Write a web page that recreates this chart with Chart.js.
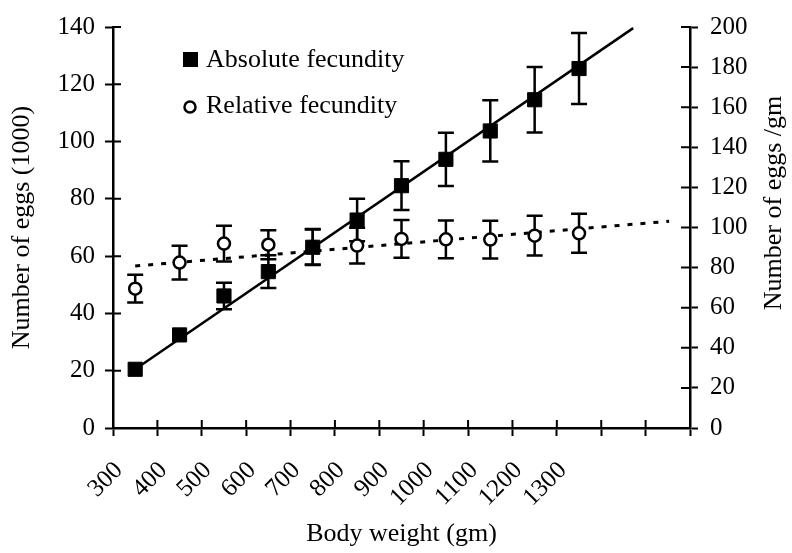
<!DOCTYPE html>
<html>
<head>
    <meta charset="utf-8">
    <title>Fecundity and body weight</title>
    <script src="https://cdn.jsdelivr.net/npm/chart.js"></script>
    <style>
        html, body { margin: 0; padding: 0; background: #fff; }
        .chart-container { width: 792px; height: 553px; position: relative; }
    </style>
</head>
<body>
    <div class="chart-container">
        <canvas id="fecundityChart"></canvas>
    </div>

    <script>
        // body weight classes (gm), midpoints of each 100 gm class
        const weights = [350, 450, 550, 650, 750, 850, 950, 1050, 1150, 1250, 1350];
        // absolute fecundity, number of eggs (1000), mean and +/- error
        const absoluteFecundity = [20.5, 32.5, 46.1, 54.6, 63.1, 72.6, 84.6, 93.8, 103.7, 114.6, 125.5];
        const absoluteError = [0, 0, 4.6, 5.7, 6.2, 7.4, 8.5, 9.3, 10.7, 11.4, 12.4];
        // relative fecundity, number of eggs per gm
        const relativeFecundity = [69.5, 82.5, 92.0, 91.4, 90.4, 91.0, 94.3, 94.1, 94.0, 95.9, 97.1];
        const relativeError = [6.9, 8.4, 8.9, 7.2, 8.9, 8.9, 9.4, 9.4, 9.4, 9.9, 9.7];
        // fitted lines (end points)
        const absoluteFitX = [350, 1472];
        const absoluteFitY = [20.5, 139.6];
        const relativeFitX = [350, 1553];
        const relativeFitY = [80.8, 103.1];
        // only these weights get a label on the x axis
        const weightLabels = [300, 400, 500, 600, 700, 800, 900, 1000, 1100, 1200, 1300];

        const serif = "'Liberation Serif', 'Times New Roman', serif";
        const toPoints = (xs, ys) => xs.map((x, i) => ({ x: x, y: ys[i] }));

        const errorBars = {
            id: 'errorBars',
            beforeDatasetsDraw(chart) {
                const ctx = chart.ctx;
                const xs = chart.scales.x;
                const sets = [
                    [absoluteFecundity, absoluteError, chart.scales.y],
                    [relativeFecundity, relativeError, chart.scales.y1]
                ];
                ctx.save();
                ctx.strokeStyle = '#000';
                ctx.lineWidth = 2.5;
                sets.forEach(([vals, errs, ys]) => {
                    weights.forEach((w, i) => {
                        if (!errs[i]) return;
                        const px = xs.getPixelForValue(w);
                        const top = ys.getPixelForValue(vals[i] + errs[i]);
                        const bot = ys.getPixelForValue(vals[i] - errs[i]);
                        ctx.beginPath();
                        ctx.moveTo(px, top); ctx.lineTo(px, bot);
                        ctx.moveTo(px - 8, top); ctx.lineTo(px + 8, top);
                        ctx.moveTo(px - 8, bot); ctx.lineTo(px + 8, bot);
                        ctx.stroke();
                    });
                });
                ctx.restore();
            }
        };

        // tick marks that cross the axis, legend and right axis title
        const decorations = {
            id: 'decorations',
            afterDraw(chart) {
                const ctx = chart.ctx;
                const { x, y, y1 } = chart.scales;
                ctx.save();
                ctx.strokeStyle = '#000';
                ctx.lineWidth = 2;
                ctx.beginPath();
                x.ticks.forEach(t => {
                    const px = x.getPixelForValue(t.value);
                    ctx.moveTo(px, x.top); ctx.lineTo(px, x.top - 8);
                });
                y.ticks.forEach(t => {
                    const py = y.getPixelForValue(t.value);
                    ctx.moveTo(y.right, py); ctx.lineTo(y.right + 8, py);
                });
                y1.ticks.forEach(t => {
                    const py = y1.getPixelForValue(t.value);
                    ctx.moveTo(y1.left, py); ctx.lineTo(y1.left - 9, py);
                });
                ctx.stroke();

                // legend
                const ds = chart.data.datasets;
                ctx.font = '26px ' + serif;
                ctx.fillStyle = '#000';
                ctx.textBaseline = 'middle';
                ctx.textAlign = 'left';
                ctx.fillRect(183, 52, 15, 15);
                ctx.fillText(ds[0].label, 206, 60);
                ctx.beginPath();
                ctx.arc(190, 107, 5.5, 0, Math.PI * 2);
                ctx.lineWidth = 2.5;
                ctx.stroke();
                ctx.fillText(ds[1].label, 206, 106);

                // right axis title reads bottom to top
                ctx.translate(774, 203);
                ctx.rotate(-Math.PI / 2);
                ctx.textAlign = 'center';
                ctx.fillText('Number of eggs /gm', 0, 0);
                ctx.restore();
            }
        };

        const axisLine = { display: true, color: '#000', width: 2.5 };
        const tickMarks = { display: true, drawOnChartArea: false, drawTicks: true, tickLength: 8, tickWidth: 2, tickColor: '#000' };

        const ctx = document.getElementById('fecundityChart').getContext('2d');
        const chart = new Chart(ctx, {
            type: 'scatter',
            data: {
                datasets: [{
                    label: 'Absolute fecundity',
                    data: toPoints(weights, absoluteFecundity),
                    yAxisID: 'y',
                    pointStyle: 'rect',
                    pointRadius: 10,
                    backgroundColor: '#000',
                    borderColor: '#000',
                    borderWidth: 1
                }, {
                    label: 'Relative fecundity',
                    data: toPoints(weights, relativeFecundity),
                    yAxisID: 'y1',
                    pointStyle: 'circle',
                    pointRadius: 6,
                    backgroundColor: '#fff',
                    borderColor: '#000',
                    borderWidth: 2.5
                }, {
                    label: 'Absolute fit',
                    data: toPoints(absoluteFitX, absoluteFitY),
                    yAxisID: 'y',
                    showLine: true,
                    pointRadius: 0,
                    borderColor: '#000',
                    borderWidth: 2.5
                }, {
                    label: 'Relative fit',
                    data: toPoints(relativeFitX, relativeFitY),
                    yAxisID: 'y1',
                    showLine: true,
                    pointRadius: 0,
                    borderColor: '#000',
                    borderWidth: 3,
                    borderDash: [5, 8]
                }]
            },
            options: {
                responsive: true,
                maintainAspectRatio: false,
                animation: false,
                layout: { padding: { top: 21, left: 0, right: 0, bottom: 0 } },
                plugins: {
                    legend: { display: false },
                    tooltip: { enabled: false }
                },
                scales: {
                    x: {
                        type: 'linear',
                        min: 300,
                        max: 1600,
                        border: axisLine,
                        grid: tickMarks,
                        afterFit: s => { s.height = 125; },
                        ticks: {
                            stepSize: 100,
                            autoSkip: false,
                            minRotation: 45,
                            maxRotation: 45,
                            padding: 20,
                            labelOffset: 6,
                            color: '#000',
                            font: { family: serif, size: 25 },
                            callback: v => weightLabels.includes(v) ? String(v) : ''
                        },
                        title: {
                            display: true,
                            text: 'Body weight (gm)',
                            color: '#000',
                            font: { family: serif, size: 26 },
                            padding: { top: 0, bottom: 3 }
                        }
                    },
                    y: {
                        position: 'left',
                        min: 0,
                        max: 140,
                        border: axisLine,
                        grid: tickMarks,
                        afterFit: s => { s.width = 113; },
                        ticks: {
                            stepSize: 20,
                            padding: 10,
                            color: '#000',
                            font: { family: serif, size: 25 }
                        },
                        title: {
                            display: true,
                            text: 'Number of eggs (1000)',
                            color: '#000',
                            font: { family: serif, size: 26 },
                            padding: { top: 7, bottom: 0 }
                        }
                    },
                    y1: {
                        position: 'right',
                        min: 0,
                        max: 200,
                        border: axisLine,
                        grid: tickMarks,
                        afterFit: s => { s.width = 102; },
                        ticks: {
                            stepSize: 20,
                            padding: 12,
                            color: '#000',
                            font: { family: serif, size: 25 }
                        }
                    }
                }
            },
            plugins: [errorBars, decorations]
        });
    </script>
</body>
</html>
